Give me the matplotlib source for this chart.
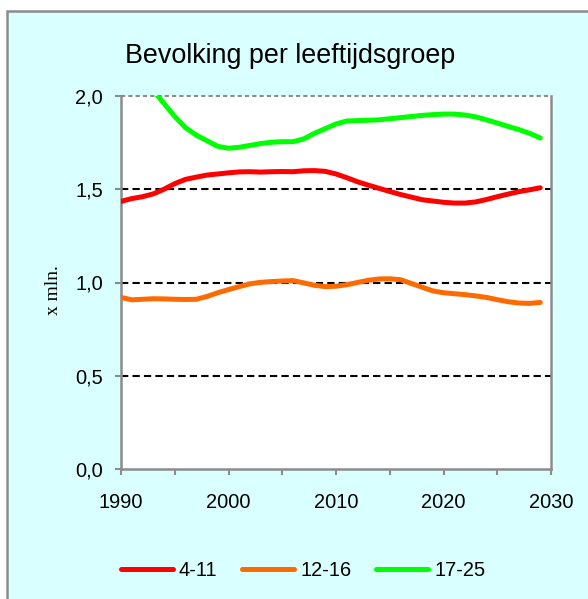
import matplotlib
matplotlib.use("Agg")
import matplotlib.pyplot as plt
from matplotlib.patches import Rectangle

years = list(range(1990, 2030))
groep_4_11 = [1.435, 1.450, 1.460, 1.475, 1.500, 1.530, 1.553, 1.565, 1.576, 1.582,
              1.588, 1.593, 1.594, 1.592, 1.594, 1.595, 1.594, 1.599, 1.600, 1.596,
              1.582, 1.562, 1.540, 1.522, 1.505, 1.488, 1.472, 1.458, 1.444, 1.437,
              1.430, 1.426, 1.426, 1.432, 1.445, 1.460, 1.474, 1.487, 1.497, 1.508]
groep_12_16 = [0.920, 0.907, 0.910, 0.913, 0.912, 0.910, 0.909, 0.910, 0.925, 0.945,
               0.962, 0.978, 0.993, 1.001, 1.005, 1.008, 1.010, 0.998, 0.985, 0.978,
               0.980, 0.988, 1.000, 1.012, 1.019, 1.020, 1.015, 0.995, 0.975, 0.955,
               0.945, 0.940, 0.935, 0.928, 0.920, 0.908, 0.897, 0.890, 0.888, 0.893]
groep_17_25 = [2.250, 2.180, 2.100, 2.030, 1.960, 1.890, 1.830, 1.790, 1.760, 1.730,
               1.720, 1.725, 1.735, 1.745, 1.752, 1.755, 1.755, 1.770, 1.800, 1.825,
               1.850, 1.866, 1.868, 1.870, 1.872, 1.878, 1.884, 1.890, 1.896, 1.900,
               1.903, 1.903, 1.898, 1.888, 1.872, 1.855, 1.837, 1.820, 1.800, 1.775]
labels = ["4-11", "12-16", "17-25"]
colors = ["#FF0000", "#FF6A00", "#00FF00"]
yticks = [0.0, 0.5, 1.0, 1.5, 2.0]
ytick_labels = ["0,0", "0,5", "1,0", "1,5", "2,0"]
xticks_major = [1990, 2000, 2010, 2020, 2030]
xticks_minor = [1995, 2005, 2015, 2025]

W, H = 588, 599
fig = plt.figure(figsize=(W / 100, H / 100), dpi=100)
fig.patch.set_facecolor("white")
plt.rcParams["font.family"] = ["Liberation Sans", "DejaVu Sans"]

# cyan chart area box
fig.patches.append(Rectangle((6.5 / W, -0.05), 1.2, 1 - 11 / H + 0.05,
                             transform=fig.transFigure, facecolor="#D9FFFF",
                             edgecolor="#8C8C8C", linewidth=1.8, zorder=-10))

ax = fig.add_axes([121 / W, 1 - 469 / H, 430 / W, 373 / H])
ax.set_zorder(1)
ax.set_facecolor("white")

for vals, lab, col in zip([groep_4_11, groep_12_16, groep_17_25], labels, colors):
    ax.plot(years, vals, color=col, lw=3.6, label=lab, solid_capstyle="round",
            solid_joinstyle="round", zorder=3)

for yv in [0.5, 1.0, 1.5]:
    ax.axhline(yv, color="black", lw=1.5, ls=(0, (3.5, 2)), zorder=2)
ax.axhline(2.0, color="#8C8C8C", lw=1.5, ls=(0, (2, 1.5)), zorder=2, clip_on=False)

ax.set_xlim(1990, 2030)
ax.set_ylim(0, 2.0)
ax.set_yticks(yticks)
ax.set_yticklabels(ytick_labels)
ax.set_xticks(xticks_major)
ax.set_xticklabels([str(x) for x in xticks_major])
ax.set_xticks(xticks_minor, minor=True)

for s in ["left", "bottom", "right"]:
    ax.spines[s].set_color("#8C8C8C")
    ax.spines[s].set_linewidth(1.8)
ax.spines["top"].set_visible(False)

ax.tick_params(axis="both", which="both", colors="#8C8C8C", width=1.5,
               length=4, labelcolor="black", labelsize=14.4)
ax.tick_params(axis="y", pad=9)
ax.tick_params(axis="x", which="major", pad=13)

fig.text(290 / W, 1 - 56 / H, "Bevolking per leeftijdsgroep", ha="center",
         va="center", fontsize=19.4, color="black")
fig.text(53 / W, 1 - 290 / H, "x mln.", rotation=90, ha="center", va="center",
         fontsize=14, family=["Liberation Serif", "DejaVu Serif"], color="black")

fig.legend(loc="center", bbox_to_anchor=(303 / W, 1 - 570 / H), ncol=3,
           frameon=False, fontsize=14.4, handlelength=2.6, handletextpad=0.3,
           columnspacing=1.25)

fig.savefig("out.png", dpi=100)
